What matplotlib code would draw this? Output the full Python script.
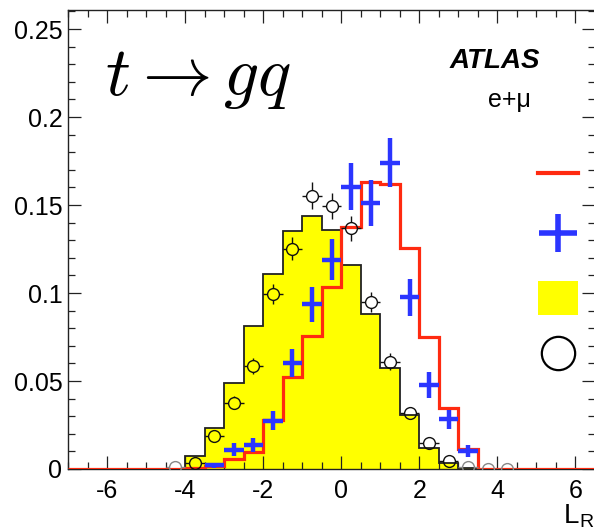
import numpy as np
import matplotlib
matplotlib.use("Agg")
import matplotlib.pyplot as plt
from matplotlib.lines import Line2D
from matplotlib.patches import Patch

plt.rcParams['font.family'] = ['Liberation Sans', 'DejaVu Sans']
plt.rcParams['mathtext.fontset'] = 'cm'
plt.rcParams['axes.unicode_minus'] = False

# bin edges of the L_R distribution
edges = np.arange(-7.0, 6.5 + 0.01, 0.5)

# yellow background template (27 bins, -7 .. 6.5)
bkg = [0, 0, 0, 0, 0, 0,
       0.0074, 0.0235, 0.049, 0.081, 0.111, 0.1355, 0.1438, 0.1358,
       0.116, 0.0878, 0.0572, 0.0307, 0.0117, 0.0032, 0.0006,
       0, 0, 0, 0, 0, 0]

# red signal template
sig = [0, 0, 0, 0, 0, 0,
       0.0005, 0.0015, 0.0055, 0.0098, 0.0278, 0.0525, 0.0756, 0.1036,
       0.1377, 0.163, 0.1618, 0.1254, 0.0748, 0.0345, 0.0112,
       0, 0, 0, 0, 0, 0]

# blue crosses
blue_x = [-3.25, -2.75, -2.25, -1.75, -1.25, -0.75, -0.25,
          0.25, 0.75, 1.25, 1.75, 2.25, 2.75, 3.25]
blue_y = [0.002, 0.011, 0.0136, 0.0275, 0.0604, 0.0936, 0.119,
          0.1604, 0.151, 0.174, 0.0976, 0.0477, 0.0282, 0.0104]
blue_err = [0.0015, 0.0035, 0.0039, 0.0055, 0.008, 0.010, 0.0115,
            0.0134, 0.013, 0.0138, 0.0104, 0.0073, 0.0054, 0.0034]

# open circles
circ_x = [-4.25, -3.75, -3.25, -2.75, -2.25, -1.75, -1.25, -0.75, -0.25,
          0.25, 0.75, 1.25, 1.75, 2.25, 2.75, 3.25, 3.75, 4.25]
circ_y = [0.001, 0.0035, 0.019, 0.0377, 0.0585, 0.0993, 0.1252, 0.1553, 0.1494,
          0.1368, 0.095, 0.061, 0.032, 0.015, 0.0047, 0.001, 0.0, 0.0]
circ_err = [0, 0.001, 0.0026, 0.0037, 0.0046, 0.0058, 0.0065, 0.0075, 0.0072,
            0.007, 0.0058, 0.0047, 0.0034, 0.0023, 0.0013, 0, 0, 0]

red = '#ff2a10'
blue = '#2b35ff'
yellow = '#ffff00'

fig = plt.figure(figsize=(5.94, 5.31), dpi=100)
ax = fig.add_axes([68 / 594, 62 / 531, 527 / 594, 459 / 531])
ax.set_xlim(-7, 6.5)
ax.set_ylim(0, 0.2608)

ax.stairs(bkg, edges, fill=True, color=yellow, zorder=1)
ax.stairs(bkg, edges, color='#222222', lw=1.3, zorder=2)
ax.stairs(sig, edges, color=red, lw=2.3, zorder=3)

# open circles with error ticks outside the marker
cx = np.array(circ_x)
cy = np.array(circ_y)
ce = np.array(circ_err)
rx = 6.0 / (ax.bbox.width / 13.5)
ry = 6.0 / (ax.bbox.height / 0.2608)
dark = cy > 0.003
for m, col in [(dark, '#111111'), (~dark, '#888888')]:
    ax.plot(cx[m], cy[m], 'o', ms=8.5, mfc='none', mec=col, mew=1.0, zorder=5)
    ax.hlines(cy[m], cx[m] - 0.25, cx[m] - rx, color=col, lw=1.0, zorder=5)
    ax.hlines(cy[m], cx[m] + rx, cx[m] + 0.25, color=col, lw=1.0, zorder=5)
    big = m & (ce > ry)
    ax.vlines(cx[big], cy[big] + ry, cy[big] + ce[big], color=col, lw=1.0, zorder=5)
    ax.vlines(cx[big], cy[big] - ce[big], cy[big] - ry, color=col, lw=1.0, zorder=5)

ax.errorbar(blue_x, blue_y, xerr=0.25, yerr=blue_err, fmt='none',
            ecolor=blue, elinewidth=3.2, capsize=0, zorder=6)

ax.set_xticks([-6, -4, -2, 0, 2, 4, 6])
ax.set_xticks(np.arange(-7, 6.6, 0.5), minor=True)
ax.set_yticks([0, 0.05, 0.1, 0.15, 0.2, 0.25])
ax.set_yticks(np.arange(0, 0.261, 0.01), minor=True)
ax.set_yticklabels(['0', '0.05', '0.1', '0.15', '0.2', '0.25'])
ax.tick_params(which='both', direction='in', top=True, right=True,
               labelsize=18, width=0.9, color='#222222')
ax.tick_params(which='major', length=9.5)
ax.tick_params(which='minor', length=4.7)
ax.tick_params(axis='x', pad=7)
ax.tick_params(axis='y', pad=4)
for s in ax.spines.values():
    s.set_linewidth(1.0)
    s.set_color('#222222')

ax.set_xlabel('L$_\\mathregular{R}$', loc='right', fontsize=20, labelpad=0)

ax.text(0.07, 0.815, r'$t \rightarrow gq$', transform=ax.transAxes,
        fontsize=50, va='baseline', ha='left')
ax.text(0.7235, 0.873, 'ATLAS', transform=ax.transAxes, fontsize=20,
        fontweight='bold', style='italic', va='baseline', ha='left')
ax.text(0.797, 0.789, 'e+\u03bc', transform=ax.transAxes, fontsize=18,
        va='baseline', ha='left')

handles = [Line2D([], [], color=red, lw=3),
           Line2D([], [], ls='none', marker='+', ms=27, mew=4, color=blue),
           Patch(facecolor=yellow, edgecolor='none'),
           Line2D([], [], ls='none', marker='o', ms=24, mfc='none', mec='black', mew=1.6)]
labels = ['tqg signal', 'tqg (alt.)', 'background', 'data']
fig.legend(handles, labels, loc='upper left', bbox_to_anchor=(538 / 594, 1 - 161 / 531),
           frameon=False, fontsize=14, handlelength=2.06, handleheight=2.32,
           labelspacing=1.34, borderpad=0, borderaxespad=0, handletextpad=0.8)

fig.savefig('out.png', dpi=100)
